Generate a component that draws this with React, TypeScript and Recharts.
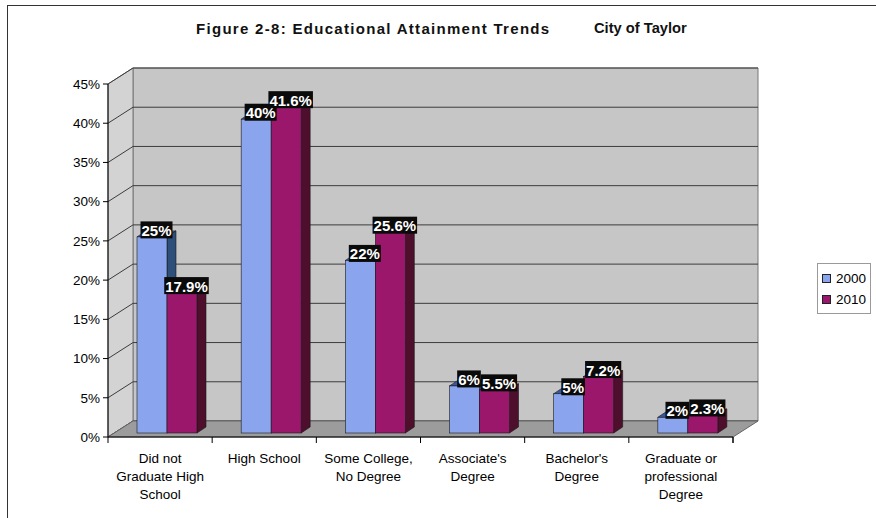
import { Bar, BarChart, LabelList, Legend, ReferenceArea, XAxis, YAxis } from "recharts";

const categories = [
	"Did not\nGraduate High\nSchool",
	"High School",
	"Some College,\nNo Degree",
	"Associate's\nDegree",
	"Bachelor's\nDegree",
	"Graduate or\nprofessional\nDegree",
];
const values2000 = [25, 40, 22, 6, 5, 2];
const values2010 = [17.9, 41.6, 25.6, 5.5, 7.2, 2.3];
const yTicks = [0, 5, 10, 15, 20, 25, 30, 35, 40, 45];
const seriesNames = ["2000", "2010"];

const data = categories.map((name, i) => ({
	name,
	y2000: values2000[i],
	y2010: values2010[i],
}));

const FONT = '"Liberation Sans", Arial, sans-serif';
const W = 876;
const H = 518;
const PLOT_LEFT = 108;
const PLOT_TOP = 84;
const PLOT_RIGHT = 733;
const PLOT_BOTTOM = 437;
const Y_AXIS_W = 60;
const BAND = (PLOT_RIGHT - PLOT_LEFT) / categories.length;

// wall depth (back wall offset)
const DX = 25;
const DY = 16;
// bars sit a bit behind the front plane
const BAR_DX = 7;
const BAR_DY = -4;
const BAR_DEPTH_X = 9;
const BAR_DEPTH_Y = 6;

const COLORS = {
	blue: { front: "#8aa5ee", top: "#3a58a0", side: "#2d4f7a" },
	purple: { front: "#9a176c", top: "#6c1248", side: "#4d0f2c" },
};

function Backdrop(props: any) {
	const { x, y, width, height } = props;
	const l = x;
	const t = y;
	const r = x + width;
	const b = y + height;
	const yOf = (v: number) => b - (v / 45) * height;
	return (
		<g>
			<polygon
				points={`${l + DX},${t - DY} ${r + DX},${t - DY} ${r + DX},${b - DY} ${l + DX},${b - DY}`}
				fill="#c6c6c6"
				stroke="#777"
				strokeWidth={1}
			/>
			<polygon
				points={`${l},${t} ${l + DX},${t - DY} ${l + DX},${b - DY} ${l},${b}`}
				fill="#d3d3d3"
				stroke="#777"
				strokeWidth={1}
			/>
			{yTicks.map((v) => (
				<g key={v}>
					<line x1={l + DX} y1={yOf(v) - DY} x2={r + DX} y2={yOf(v) - DY} stroke="#3c3c3c" strokeWidth={1} />
					<line x1={l} y1={yOf(v)} x2={l + DX} y2={yOf(v) - DY} stroke="#3c3c3c" strokeWidth={1} />
				</g>
			))}
			<polygon
				points={`${l},${b} ${l + DX},${b - DY} ${r + DX},${b - DY} ${r},${b}`}
				fill="#9c9c9c"
				stroke="#666"
				strokeWidth={1}
			/>
			<line x1={r} y1={b} x2={r} y2={b + 6} stroke="#000" />
		</g>
	);
}

const makeBarShape = (c: { front: string; top: string; side: string }) => (props: any) => {
	const { x, y, width, height } = props;
	if (!height || height <= 0) return <g />;
	const x0 = x + BAR_DX;
	const y0 = y + BAR_DY;
	const x1 = x0 + width;
	const y1 = y0 + height;
	return (
		<g stroke="#1a1a1a" strokeWidth={0.6}>
			<polygon
				points={`${x0},${y0} ${x0 + BAR_DEPTH_X},${y0 - BAR_DEPTH_Y} ${x1 + BAR_DEPTH_X},${y0 - BAR_DEPTH_Y} ${x1},${y0}`}
				fill={c.top}
			/>
			<polygon
				points={`${x1},${y0} ${x1 + BAR_DEPTH_X},${y0 - BAR_DEPTH_Y} ${x1 + BAR_DEPTH_X},${y1 - BAR_DEPTH_Y} ${x1},${y1}`}
				fill={c.side}
			/>
			<rect x={x0} y={y0} width={width} height={height} fill={c.front} />
		</g>
	);
};

const charW = (ch: string) => (ch === "%" ? 0.889 : ch === "." ? 0.278 : 0.556);

function renderValueLabel(props: any) {
	const { x, y, width, value } = props;
	const text = `${value}%`;
	const fs = 15;
	const tw = text.split("").reduce((s, ch) => s + charW(ch) * fs, 0);
	const cx = Number(x) + Number(width) / 2 + BAR_DX + BAR_DEPTH_X / 2;
	const bottom = Number(y) + BAR_DY + 1.5;
	return (
		<g>
			<rect x={cx - tw / 2 - 1} y={bottom - 17} width={tw + 2} height={17} fill="#0a0a0a" />
			<text
				x={cx}
				y={bottom - 2.5}
				textAnchor="middle"
				fill="#ffffff"
				fontFamily={FONT}
				fontWeight="bold"
				fontSize={fs}
			>
				{text}
			</text>
		</g>
	);
}

function CategoryTick(props: any) {
	const { x, payload, index } = props;
	const lines = String(payload.value).split("\n");
	return (
		<g>
			<line x1={x - BAND / 2} y1={PLOT_BOTTOM} x2={x - BAND / 2} y2={PLOT_BOTTOM + 6} stroke="#000" />
			{index === categories.length - 1 && (
				<line x1={x + BAND / 2} y1={PLOT_BOTTOM} x2={x + BAND / 2} y2={PLOT_BOTTOM + 6} stroke="#000" />
			)}
			<text textAnchor="middle" fontFamily={FONT} fontSize={13.5} fill="#000">
				{lines.map((ln, i) => (
					<tspan key={i} x={x} y={463 + i * 18}>
						{ln}
					</tspan>
				))}
			</text>
		</g>
	);
}

function renderLegend() {
	const swatches = [COLORS.blue.front, COLORS.purple.front];
	return (
		<div
			style={{
				border: "1px solid #9a9a9a",
				background: "#fff",
				padding: "4px 3px 3px 4px",
				fontFamily: FONT,
				fontSize: 13.5,
				color: "#000",
				boxSizing: "border-box",
				width: 54,
			}}
		>
			{seriesNames.map((n, i) => (
				<div key={n} style={{ display: "flex", alignItems: "center", height: 21 }}>
					<span
						style={{
							display: "inline-block",
							width: 7,
							height: 7,
							background: swatches[i],
							border: "1px solid #222",
							marginRight: 5,
						}}
					/>
					{n}
				</div>
			))}
		</div>
	);
}

export default function App() {
	return (
		<div style={{ position: "absolute", left: 0, top: 0, width: W, height: H, background: "#fff", overflow: "hidden" }}>
			<div
				style={{
					position: "absolute",
					left: 7,
					top: 5,
					width: W,
					height: H,
					borderLeft: "1.5px solid #333",
					borderTop: "1.5px solid #333",
				}}
			/>
			<div
				style={{
					position: "absolute",
					left: 196,
					top: 20,
					fontFamily: FONT,
					fontWeight: "bold",
					fontSize: 15,
					letterSpacing: "1.3px",
					lineHeight: "17px",
					color: "#111",
					whiteSpace: "pre",
				}}
			>
				Figure 2-8: Educational Attainment Trends
			</div>
			<div
				style={{
					position: "absolute",
					left: 594,
					top: 20,
					fontFamily: FONT,
					fontWeight: "bold",
					fontSize: 14.7,
					lineHeight: "17px",
					color: "#111",
				}}
			>
				City of Taylor
			</div>
			<div style={{ position: "absolute", left: 0, top: 0 }}>
				<BarChart
					width={W}
					height={H}
					data={data}
					margin={{
						top: PLOT_TOP,
						right: W - PLOT_RIGHT,
						bottom: 0,
						left: PLOT_LEFT - Y_AXIS_W,
					}}
					barGap={0}
					barSize={30}
				>
					<XAxis
						dataKey="name"
						height={H - PLOT_BOTTOM}
						interval={0}
						tickLine={false}
						axisLine={{ stroke: "#000" }}
						tick={<CategoryTick />}
					/>
					<YAxis
						width={Y_AXIS_W}
						domain={[0, 45]}
						ticks={yTicks}
						tickFormatter={(v) => `${v}%`}
						tickSize={5}
						tickMargin={3}
						axisLine={{ stroke: "#000" }}
						tickLine={{ stroke: "#000" }}
						tick={{ fill: "#000", fontSize: 13.5, fontFamily: FONT }}
					/>
					<ReferenceArea y1={0} y2={45} ifOverflow="visible" shape={<Backdrop />} />
					<Bar dataKey="y2000" name="2000" fill={COLORS.blue.front} shape={makeBarShape(COLORS.blue)} isAnimationActive={false}>
						<LabelList dataKey="y2000" content={renderValueLabel} />
					</Bar>
					<Bar dataKey="y2010" name="2010" fill={COLORS.purple.front} shape={makeBarShape(COLORS.purple)} isAnimationActive={false}>
						<LabelList dataKey="y2010" content={renderValueLabel} />
					</Bar>
					<Legend
						layout="vertical"
						align="center"
						verticalAlign="middle"
						content={renderLegend}
						wrapperStyle={{ left: 817, top: 263, width: 54 }}
					/>
				</BarChart>
			</div>
		</div>
	);
}
